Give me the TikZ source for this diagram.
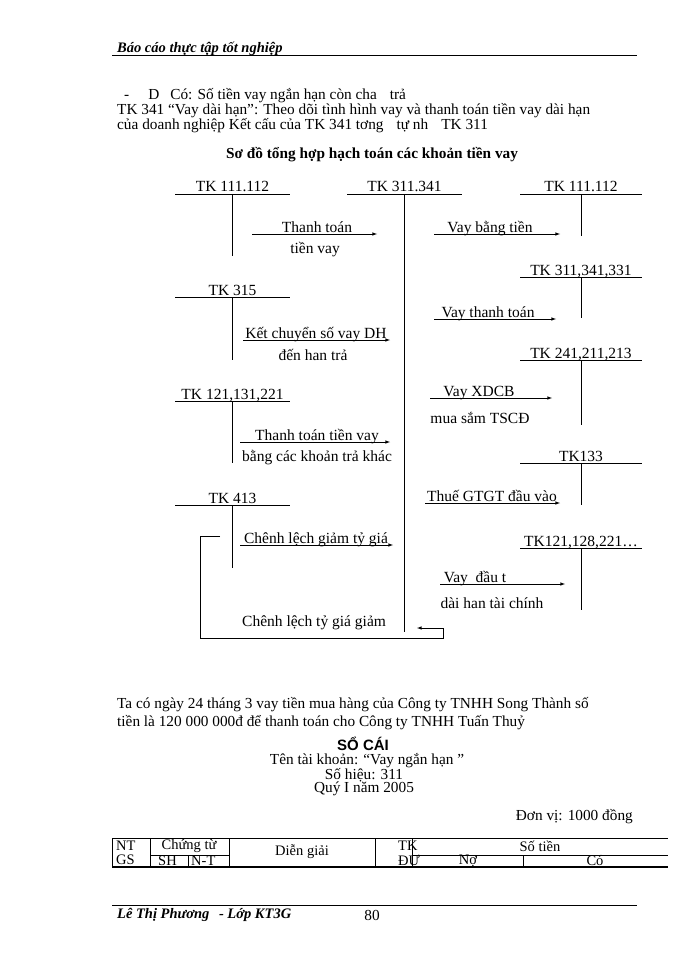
\documentclass[tikz,border=0pt]{standalone}
\usepackage{fontspec}
\setmainfont{Liberation Serif}
\setsansfont{Liberation Sans}
\begin{document}
\begin{tikzpicture}[x=1pt,y=-1pt,
  lbl/.style={font=\fontsize{15.5}{16}\selectfont,inner sep=1pt},
  txt/.style={font=\fontsize{15.3}{16}\selectfont,inner sep=0pt,anchor=west},
  cell/.style={font=\fontsize{14.5}{15}\selectfont,inner sep=0pt,anchor=west},
  tline/.style={line width=0.6pt},
  arr/.style={line width=0.6pt,-latex}]
\useasboundingbox (0,0) rectangle (700,960);
% header
\node[txt,anchor=base west,font=\bfseries\itshape\fontsize{14.5}{15}\selectfont] (hdr) at (117,53) {Báo cáo thực tập tốt nghiệp};
\draw[line width=0.5pt] (112,55.5) -- (637,55.5);
\node[txt] (l1) at (124,96) {-\hspace{19pt}D\hspace{11pt}Có: Số tiền vay ngắn hạn còn cha\hspace{13pt}trả};
\node[txt] (l2) at (117,111) {TK 341 “Vay dài hạn”: Theo dõi tình hình vay và thanh toán tiền vay dài hạn};
\node[txt] (l3) at (117,126) {của doanh nghiệp Kết cấu của TK 341 tơng\hspace{13pt}tự nh\hspace{13pt}TK 311};
\node[txt,anchor=center,font=\bfseries\fontsize{15.3}{16}\selectfont] (title) at (372,155) {Sơ đồ tổng hợp hạch toán các khoản tiền vay};
% T accounts
\foreach \n/\xa/\xb/\y/\ye/\t in {a/175/290/194/256/{TK 111.112}, b/347/462/194/632/{TK 311.341}, c/520/642/194/236/{TK 111.112}, d/520/642/277/318/{TK 311,341,331}, e/175/290/297/360/{TK 315}, f/520/642/360/425/{TK 241,211,213}, g/175/290/401/463/{TK 121,131,221}, h/520/642/463/505/{TK133}, i/175/290/505/568/{TK 413}, j/520/642/548/610/{TK121,128,221\ldots}}{
  \draw[tline] (\xa,\y) -- (\xb,\y);
  \coordinate (\n top) at ({(\xa+\xb)/2},\y);
  \coordinate (\n bot) at ({(\xa+\xb)/2},\ye);
  \draw[tline] (\n top) -- (\n bot);
  \node[lbl,anchor=base] (\n lab) at ({(\xa+\xb)/2},\y-2) {\t};
}
% arrows
\foreach \n/\xa/\xb/\y in {p1/252/377/234, p2/434/560/234, p3/434/556/319, p4/243/390/340, p5/430/552/398, p6/240/390/442, p7/425/560/503, p8/240/393/545, p9/440/565/584}{
  \coordinate (\n s) at (\xa,\y);
  \coordinate (\n e) at (\xb,\y);
  \draw[arr] (\n s) -- (\n e);
}
\node[lbl,anchor=base] (p1lab) at (317,232) {Thanh toán};
\node[lbl,anchor=base] (p2lab) at (490,232) {Vay bằng tiền};
\node[lbl,anchor=base] (p3lab) at (488,317) {Vay thanh toán};
\node[lbl,anchor=base] (p4lab) at (316,338) {Kết chuyển số vay DH};
\node[lbl,anchor=base] (p5lab) at (479,396) {Vay XDCB};
\node[lbl,anchor=base] (p6lab) at (317,440) {Thanh toán tiền vay};
\node[lbl,anchor=base] (p7lab) at (492,501) {Thuế GTGT đầu vào};
\node[lbl,anchor=base] (p8lab) at (316,543) {Chênh lệch giảm tỷ giá};
\node[lbl,anchor=base] (p9lab) at (475,582) {Vay\ \ đầu t};
\node[lbl] (q1) at (315,250) {tiền vay};
\node[lbl] (q4) at (313,355) {đến han trả};
\node[lbl] (q5) at (480,418) {mua sắm TSCĐ};
\node[lbl] (q6) at (317,458) {bằng các khoản trả khác};
\node[lbl] (q9) at (492,603) {dài han tài chính};
\node[lbl,anchor=west] (q10) at (241,623) {Chênh lệch tỷ giá giảm};
\coordinate (k1) at (220,536);
\coordinate (k2) at (200,536);
\coordinate (k3) at (200,638);
\coordinate (k4) at (443,638);
\coordinate (k5) at (443,628);
\coordinate (k6) at (417,628);
\draw[tline] (k1) -- (k2) -- (k3) -- (k4) -- (k5);
\draw[arr] (k5) -- (k6);
% paragraph
\node[txt] (pa) at (117,705) {Ta có ngày 24 tháng 3 vay tiền mua hàng của Công ty TNHH Song Thành số};
\node[txt] (pb) at (117,723) {tiền là 120 000 000đ để thanh toán cho Công ty TNHH Tuấn Thuỷ};
\node[txt,anchor=center,font=\sffamily\bfseries\fontsize{15}{15}\selectfont] (sc) at (363,744) {SỔ CÁI};
\node[txt,anchor=center] (s1) at (367,761) {Tên tài khoản: “Vay ngắn hạn ”};
\node[txt,anchor=center] (s2) at (364,775) {Số hiệu: 311};
\node[txt,anchor=center] (s3) at (364,789) {Quý I năm 2005};
\node[txt,anchor=east] (dv) at (633,817) {Đơn vị: 1000 đồng};
% table
\draw[line width=0.6pt] (112,838) -- (668,838);
\draw[line width=1.2pt] (112,867) -- (668,867);
\draw[line width=0.6pt] (112,838) -- (112,867);
\foreach \x in {150,229,375,412} \draw[line width=0.6pt] (\x,838) -- (\x,867);
\draw[line width=0.6pt] (150,855) -- (229,855);
\draw[line width=0.6pt] (412,855) -- (668,855);
\draw[line width=0.6pt] (188,855) -- (188,867);
\draw[line width=0.6pt] (523,855) -- (523,867);
\node[cell] (t1) at (116,846) {NT};
\node[cell] (t2) at (116,860) {GS};
\node[cell,anchor=center] (t3) at (189,846) {Chứng từ};
\node[cell] (t4) at (158,861) {SH};
\node[cell] (t5) at (191,861) {N-T};
\node[cell,anchor=center] (t6) at (302,852) {Diễn giải};
\node[cell] (t7) at (398,846) {TK};
\node[cell] (t8) at (398,860) {ĐƯ};
\node[cell,anchor=center] (t9) at (540,846) {Số tiền};
\node[cell,anchor=center] (t10) at (468,861) {Nợ};
\node[cell,anchor=center] (t11) at (595,861) {Có};
% footer
\draw[line width=0.5pt] (112,905) -- (637,905);
\node[txt,font=\bfseries\itshape\fontsize{14.5}{15}\selectfont] (f1) at (117,915) {Lê Thị Phương\hspace{6pt} - Lớp KT3G};
\node[txt,anchor=center] (f2) at (372,915) {80};
\end{tikzpicture}
\end{document}
